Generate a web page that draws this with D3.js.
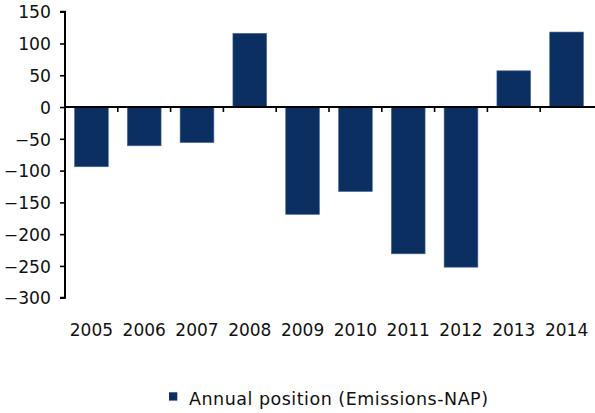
<!DOCTYPE html>
<html>
<head>
<meta charset="utf-8">
<script src="https://cdn.jsdelivr.net/npm/d3@7"></script>
<style>
  html, body { margin: 0; padding: 0; background: #fff; }
  svg { display: block; }
  text { font-family: "DejaVu Sans", sans-serif; fill: #111; }
</style>
</head>
<body>
<svg id="chart" width="595" height="413"></svg>
<script>
const years = ["2005","2006","2007","2008","2009","2010","2011","2012","2013","2014"];
const annualPosition = [-94, -61, -56, 116, -169, -133, -231, -252, 57, 118];
const yTicks = [150, 100, 50, 0, -50, -100, -150, -200, -250, -300];
const seriesName = "Annual position (Emissions-NAP)";

const svg = d3.select("#chart");
const barColor = "#0c2f62";

const x = d3.scaleBand().domain(years).range([65, 593]).paddingInner(0.36).paddingOuter(0.18);
const y = d3.scaleLinear().domain([-300, 150]).range([297.7, 11.7]);

// bars
svg.append("g").selectAll("rect")
  .data(years.map((yr, i) => ({ yr, v: annualPosition[i] })))
  .join("rect")
  .attr("x", d => x(d.yr))
  .attr("width", x.bandwidth())
  .attr("y", d => y(Math.max(0, d.v)))
  .attr("height", d => Math.abs(y(d.v) - y(0)))
  .attr("fill", barColor)
  .attr("stroke", "#4d6d9c")
  .attr("stroke-width", 0.6);

// y axis
const yAxis = d3.axisLeft(y).tickValues(yTicks).tickSize(5).tickPadding(9).tickFormat(d3.format("d"));
const gy = svg.append("g").attr("transform", "translate(65,0)").call(yAxis);
gy.select(".domain").attr("stroke", "#000").attr("stroke-width", 2)
  .attr("d", `M-5,${y(150)}H0V${y(-300)}H-5`);
gy.selectAll(".tick line").attr("stroke", "#000").attr("stroke-width", 1.6);
gy.selectAll(".tick text").attr("font-size", 17.2).attr("fill", "#111")
  .attr("font-family", "DejaVu Sans, sans-serif").attr("dy", "0.36em");

// zero line with boundary ticks
const step = x.step();
const gx = svg.append("g");
gx.append("line").attr("x1", 65).attr("x2", 595).attr("y1", y(0)).attr("y2", y(0))
  .attr("stroke", "#000").attr("stroke-width", 2);
gx.selectAll("line.bt").data(years.slice(1)).join("line").attr("class", "bt")
  .attr("x1", d => x(d) - step * x.paddingInner() / 2)
  .attr("x2", d => x(d) - step * x.paddingInner() / 2)
  .attr("y1", y(0)).attr("y2", y(0) + 5)
  .attr("stroke", "#000").attr("stroke-width", 1.6);

// category labels
svg.append("g").selectAll("text").data(years).join("text")
  .attr("x", d => x(d) + x.bandwidth() / 2)
  .attr("y", 336)
  .attr("text-anchor", "middle")
  .attr("font-size", 17)
  .text(d => d);

// legend
const lg = svg.append("g");
lg.append("rect").attr("x", 169).attr("y", 392.3).attr("width", 8.3).attr("height", 8.3).attr("fill", barColor);
lg.append("text").attr("x", 189).attr("y", 405).attr("font-size", 17.5)
  .attr("textLength", 299).attr("lengthAdjust", "spacing").text(seriesName);
</script>
</body>
</html>
